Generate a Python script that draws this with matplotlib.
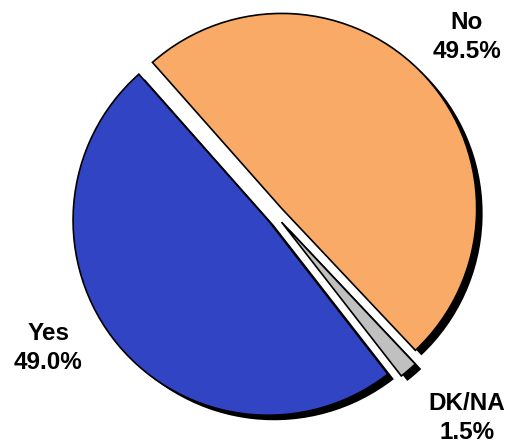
import matplotlib.pyplot as plt

labels = ['Yes', 'DK/NA', 'No']
values = [49.0, 1.5, 49.5]
colors = ['#3044C4', '#C0C0C0', '#F9AA66']

plt.rcParams['font.family'] = ['Liberation Sans', 'DejaVu Sans']

fig = plt.figure(figsize=(5.08, 4.46), dpi=100)
ax = fig.add_axes([0, 0, 1, 1])

# axes in pixel units, y up
cx, cy, r = 275, 231.5, 195
expl = [9, 10, 9]   # pie's explode is in data units here
start = 131.5

# shadow first, then the real slices on top
ax.pie(values, explode=expl, colors=['black'] * 3, startangle=start,
       center=(cx + 6, cy - 5), radius=r, frame=True,
       wedgeprops=dict(linewidth=0))
ax.pie(values, explode=expl, colors=colors, startangle=start,
       center=(cx, cy), radius=r, frame=True,
       wedgeprops=dict(edgecolor='black', linewidth=1.2))

ax.set_xlim(0, 508)
ax.set_ylim(0, 446)
ax.set_aspect('equal')
ax.axis('off')

lab_pos = {'Yes': (48.5, 98), 'DK/NA': (467, 28), 'No': (467, 409)}
for lab, v in zip(labels, values):
    x, y = lab_pos[lab]
    ax.text(x, y, f'{lab}\n{v:.1f}%', ha='center', va='center',
            fontsize=17.5, fontweight='bold', linespacing=1.35)

fig.savefig('out.png', dpi=100)
